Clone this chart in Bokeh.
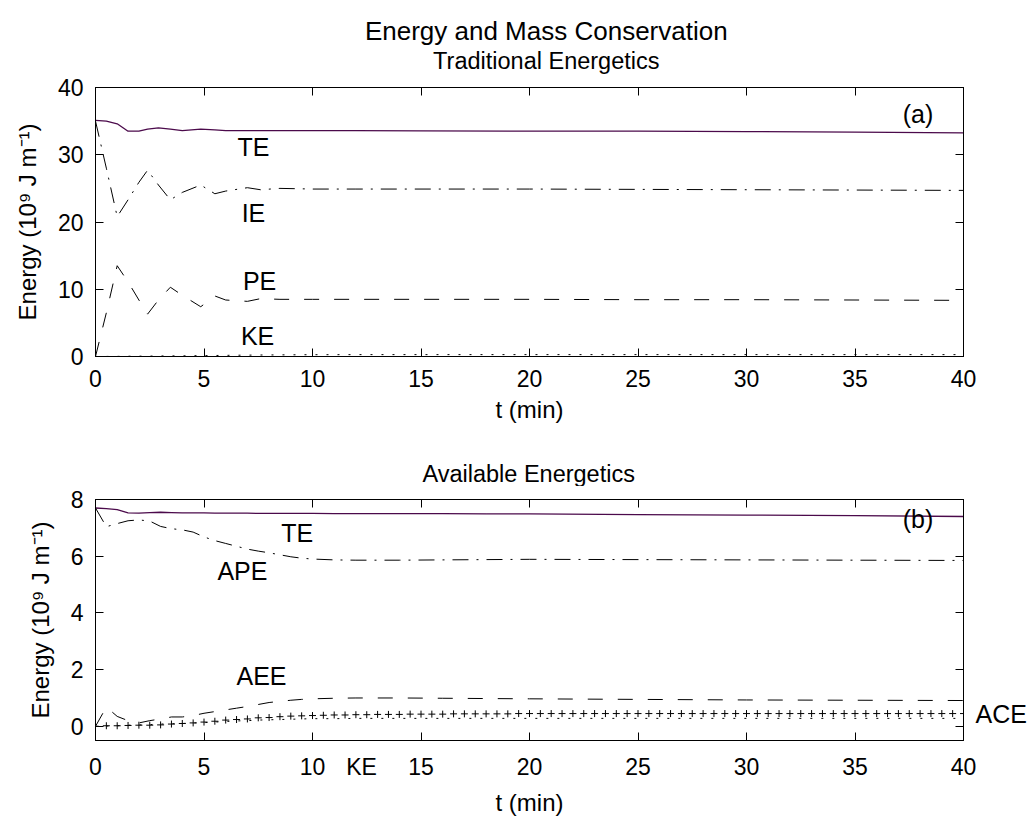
from bokeh.plotting import figure
from bokeh.models import Range1d, LinearAxis, Label, FixedTicker
from bokeh.layouts import column
from bokeh.embed import file_html
from bokeh.resources import INLINE

FONT = "Liberation Sans"

# ---------------- text ----------------
main_title = "Energy and Mass Conservation"
title_a = "Traditional Energetics"
title_b = "Available Energetics"
x_label = "t (min)"
y_label = "Energy (10\u2079 J m\u207b\u00b9)"

# ---------------- data: panel (a) Traditional Energetics ----------------
t_a = [0, 0.5, 1.0, 1.5, 2.0, 2.4, 2.9, 3.45, 4.0, 4.85, 5.5, 6.0, 7.0, 7.6,
       8.5, 10, 12, 15, 20, 25, 30, 35, 40]
te_a = [35.1, 35.0, 34.6, 33.5, 33.5, 33.8, 34.0, 33.8, 33.6, 33.8, 33.7, 33.6,
        33.6, 33.6, 33.6, 33.6, 33.6, 33.55, 33.5, 33.5, 33.45, 33.35, 33.25]
ie_a = [35.0, 28.0, 20.8, 23.3, 25.9, 27.7, 25.5, 23.3, 24.4, 25.5, 24.2, 24.6,
        25.1, 24.8, 25.0, 24.9, 24.9, 24.9, 24.9, 24.85, 24.8, 24.75, 24.7]
pe_a = [0.0, 6.5, 13.5, 11.1, 8.4, 6.3, 8.4, 10.3, 9.1, 7.4, 9.0, 8.4,
        8.2, 8.6, 8.5, 8.5, 8.5, 8.5, 8.5, 8.45, 8.45, 8.4, 8.35]

# ---------------- data: panel (b) Available Energetics ----------------
t_b = [0, 0.5, 1.0, 1.5, 2.0, 2.5, 3.0, 3.5, 4.0, 4.5, 5.0, 5.5, 6.0, 6.5, 7.0,
       7.5, 8.0, 8.5, 9.0, 9.5, 10, 11, 12, 14, 16, 18, 20, 25, 30, 35, 40]
te_b = [7.70, 7.68, 7.64, 7.53, 7.52, 7.54, 7.55, 7.54, 7.53, 7.53, 7.53, 7.52,
        7.52, 7.52, 7.52, 7.51, 7.51, 7.51, 7.51, 7.51, 7.51, 7.50, 7.50, 7.50,
        7.50, 7.49, 7.49, 7.47, 7.45, 7.43, 7.40]
ape_b = [7.70, 7.04, 7.15, 7.25, 7.28, 7.24, 7.05, 6.97, 6.93, 6.85, 6.68, 6.55,
         6.45, 6.35, 6.25, 6.18, 6.12, 6.05, 5.98, 5.93, 5.90, 5.87, 5.86, 5.86,
         5.87, 5.88, 5.89, 5.88, 5.87, 5.86, 5.85]
aee_b = [0.0, 0.68, 0.35, 0.20, 0.12, 0.20, 0.26, 0.33, 0.33, 0.38, 0.46, 0.52,
         0.58, 0.64, 0.70, 0.77, 0.84, 0.88, 0.92, 0.95, 0.97, 0.99, 1.00, 1.00,
         0.99, 0.98, 0.97, 0.95, 0.93, 0.92, 0.91]
ke_b = [0.0, 0.01, 0.02, 0.04, 0.05, 0.06, 0.08, 0.09, 0.10, 0.12, 0.13, 0.15,
        0.17, 0.19, 0.20, 0.22, 0.23, 0.24, 0.25, 0.26, 0.27, 0.27, 0.28, 0.28,
        0.28, 0.28, 0.28, 0.28, 0.28, 0.28, 0.28]

# ACE sampled every half minute
t_ace = [0.0, 0.5, 1.0, 1.5, 2.0, 2.5, 3.0, 3.5, 4.0, 4.5, 5.0, 5.5, 6.0, 6.5,
         7.0, 7.5, 8.0, 8.5, 9.0, 9.5, 10.0, 10.5, 11.0, 11.5, 12.0, 12.5, 13.0,
         13.5, 14.0, 14.5, 15.0, 15.5, 16.0, 16.5, 17.0, 17.5, 18.0, 18.5, 19.0,
         19.5, 20.0, 20.5, 21.0, 21.5, 22.0, 22.5, 23.0, 23.5, 24.0, 24.5, 25.0,
         25.5, 26.0, 26.5, 27.0, 27.5, 28.0, 28.5, 29.0, 29.5, 30.0, 30.5, 31.0,
         31.5, 32.0, 32.5, 33.0, 33.5, 34.0, 34.5, 35.0, 35.5, 36.0, 36.5, 37.0,
         37.5, 38.0, 38.5, 39.0, 39.5, 40.0]
ace_b = [0.00, 0.02, 0.02, 0.03, 0.04, 0.04, 0.05, 0.08, 0.10, 0.12, 0.15, 0.18,
         0.22, 0.24, 0.26, 0.30, 0.31, 0.34, 0.36, 0.37, 0.38, 0.39, 0.40, 0.40,
         0.41, 0.41, 0.42, 0.42, 0.42, 0.43, 0.43, 0.43, 0.43, 0.44, 0.44, 0.44,
         0.44, 0.44, 0.44, 0.45, 0.45, 0.45, 0.45, 0.45, 0.45, 0.45, 0.45, 0.45,
         0.45, 0.45, 0.45, 0.45, 0.45, 0.45, 0.45, 0.45, 0.45, 0.45, 0.45, 0.45,
         0.45, 0.45, 0.45, 0.45, 0.45, 0.45, 0.45, 0.45, 0.45, 0.45, 0.45, 0.45,
         0.45, 0.45, 0.45, 0.45, 0.45, 0.45, 0.45, 0.45, 0.45]

x_ticks = [0, 5, 10, 15, 20, 25, 30, 35, 40]
y_ticks_a = [0, 10, 20, 30, 40]
y_ticks_b = [0, 2, 4, 6, 8]

TE_COLOR = "#4b0a4b"
DASH = "15 15"
DASHDOT = "16 8 2 8"
DOT = "2 9"
TICK_PX = "23px"
AXLAB_PX = "24px"
LAB_PX = "25px"
W = 1034


def tick_only_axis(p, ticks, side):
    ax = LinearAxis(ticker=FixedTicker(ticks=ticks),
                    major_label_overrides={t: "" for t in ticks})
    ax.major_tick_in = 8
    ax.major_tick_out = 0
    ax.minor_tick_line_color = None
    ax.axis_line_color = "black"
    ax.major_tick_line_color = "black"
    ax.major_label_text_color = None
    ax.major_label_text_font_size = "2px"
    ax.major_label_standoff = 0
    p.add_layout(ax, side)


def label_axis(p, ticks, side, standoff, overrides=None, size=TICK_PX,
               axis_label=None, axis_label_standoff=0):
    ax = LinearAxis(ticker=FixedTicker(ticks=ticks))
    if overrides:
        ax.major_label_overrides = overrides
    ax.major_tick_in = 0
    ax.major_tick_out = 0
    ax.minor_tick_line_color = None
    ax.major_tick_line_color = None
    ax.axis_line_color = None
    ax.major_label_text_font = FONT
    ax.major_label_text_font_size = size
    ax.major_label_text_color = "black"
    ax.major_label_standoff = standoff
    if axis_label:
        ax.axis_label = axis_label
        ax.axis_label_text_font = FONT
        ax.axis_label_text_font_size = AXLAB_PX
        ax.axis_label_text_font_style = "normal"
        ax.axis_label_text_color = "black"
        ax.axis_label_standoff = axis_label_standoff
    p.add_layout(ax, side)


def header(height, items):
    h = figure(width=W, height=height, x_range=Range1d(0, W),
               y_range=Range1d(0, height), output_backend="svg",
               toolbar_location=None, x_axis_location=None,
               y_axis_location=None, min_border=0)
    h.grid.visible = False
    h.outline_line_color = None
    for x, y, text, size in items:
        h.add_layout(Label(x=x, y=y, text=text, text_font=FONT,
                           text_font_size=size, text_align="center",
                           text_baseline="middle", text_color="black"))
    return h


def make_fig(height, ylo, yhi, yticks, btop, bbot, extra_x=None):
    p = figure(width=W, height=height, x_range=Range1d(0, 40),
               y_range=Range1d(ylo, yhi), output_backend="svg",
               toolbar_location=None, x_axis_location=None,
               y_axis_location=None, min_border_left=95,
               min_border_right=71, min_border_top=btop,
               min_border_bottom=bbot)
    p.grid.visible = False
    p.outline_line_color = "black"
    p.background_fill_color = "white"
    p.border_fill_color = "white"
    # left axis with ticks and labels
    ly = LinearAxis(ticker=FixedTicker(ticks=yticks))
    ly.major_tick_in = 8
    ly.major_tick_out = 0
    ly.minor_tick_line_color = None
    ly.axis_line_color = "black"
    ly.major_label_text_font = FONT
    ly.major_label_text_font_size = TICK_PX
    ly.major_label_text_color = "black"
    ly.major_label_standoff = 12
    ly.axis_label = y_label
    ly.axis_label_text_font = FONT
    ly.axis_label_text_font_size = AXLAB_PX
    ly.axis_label_text_font_style = "normal"
    ly.axis_label_text_color = "black"
    ly.axis_label_standoff = 14
    p.add_layout(ly, "left")
    # box ticks
    tick_only_axis(p, x_ticks, "below")
    tick_only_axis(p, yticks, "right")
    tick_only_axis(p, x_ticks, "above")
    # bottom labels
    ticks = list(x_ticks)
    overrides = None
    if extra_x:
        ticks = ticks + [extra_x[0]]
        overrides = {extra_x[0]: extra_x[1]}
    label_axis(p, ticks, "below", 13, overrides=overrides,
               axis_label=x_label, axis_label_standoff=6)
    return p


def lab(p, x, y, text):
    p.add_layout(Label(x=x, y=y, text=text, text_font=FONT,
                       text_font_size=LAB_PX, text_align="center",
                       text_baseline="middle", text_color="black"))


# ---------------- header above panel (a) ----------------
h1 = header(75, [(537, 45, main_title, "26px"), (537, 15, title_a, "23.5px")])

# ---------------- panel (a) ----------------
pa = make_fig(365, 0, 40, y_ticks_a, 12, 84)
pa.line(t_a, te_a, line_color=TE_COLOR, line_width=1.3)
pa.line(t_a, ie_a, line_color="black", line_width=1, line_dash=DASHDOT)
pa.line(t_a, pe_a, line_color="black", line_width=1, line_dash=DASH)
pa.line(t_b, ke_b, line_color="black", line_width=1, line_dash=DOT)
lab(pa, 7.28, 31.1, "TE")
lab(pa, 7.28, 21.4, "IE")
lab(pa, 7.56, 11.3, "PE")
lab(pa, 7.47, 3.0, "KE")
lab(pa, 37.9, 36.1, "(a)")

# ---------------- header above panel (b) ----------------
h2 = header(46, [(516, 13, title_b, "23.5px")])

# ---------------- panel (b) ----------------
pb = make_fig(332, -0.5, 8, y_ticks_b, 13, 74, extra_x=(12.26, "KE"))
pb.line(t_b, te_b, line_color=TE_COLOR, line_width=1.3)
pb.line(t_b, ape_b, line_color="black", line_width=1, line_dash=DASHDOT)
pb.line(t_b, aee_b, line_color="black", line_width=1, line_dash=DASH)
pb.line(t_b, ke_b, line_color="black", line_width=1, line_dash=DOT)
pb.scatter(t_ace, ace_b, marker="cross", size=7, line_color="black",
           line_width=1)
lab(pb, 9.3, 6.82, "TE")
lab(pb, 6.77, 5.47, "APE")
lab(pb, 7.65, 1.76, "AEE")
lab(pb, 37.9, 7.31, "(b)")
label_axis(pb, [0.44], "right", 12, overrides={0.44: "ACE"}, size=LAB_PX)

layout = column(h1, pa, h2, pb, spacing=0)
open("out.html", "w").write(file_html(layout, INLINE))
